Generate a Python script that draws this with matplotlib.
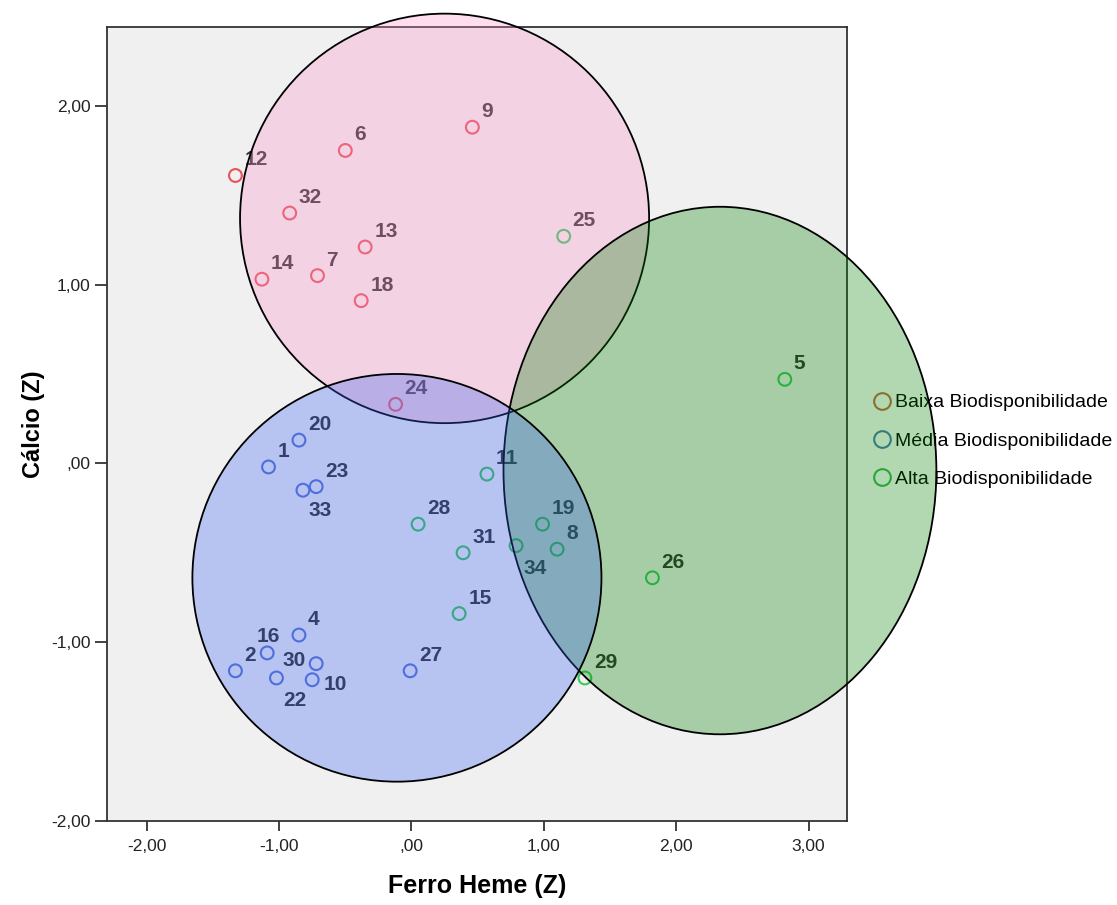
import matplotlib
matplotlib.use("Agg")
import matplotlib.pyplot as plt
from matplotlib.patches import Ellipse
from matplotlib.lines import Line2D

plt.rcParams['font.family'] = ['Liberation Sans', 'DejaVu Sans']

# case ids and z-scores (Ferro Heme, Calcio) per group
baixa_id = ["12", "6", "9", "32", "13", "14", "7", "18", "24"]
baixa_x = [-1.33, -0.50, 0.46, -0.92, -0.35, -1.13, -0.71, -0.38, -0.12]
baixa_y = [1.61, 1.75, 1.88, 1.40, 1.21, 1.03, 1.05, 0.91, 0.33]

media_id = ["20", "1", "23", "33", "4", "16", "2", "30", "22", "10", "27"]
media_x = [-0.85, -1.08, -0.72, -0.82, -0.85, -1.09, -1.33, -0.72, -1.02, -0.75, -0.01]
media_y = [0.13, -0.02, -0.13, -0.15, -0.96, -1.06, -1.16, -1.12, -1.20, -1.21, -1.16]

alta_id = ["25", "5", "11", "28", "31", "34", "19", "8", "15", "26", "29"]
alta_x = [1.15, 2.82, 0.57, 0.05, 0.39, 0.79, 0.99, 1.10, 0.36, 1.82, 1.31]
alta_y = [1.27, 0.47, -0.06, -0.34, -0.50, -0.46, -0.34, -0.48, -0.84, -0.64, -1.20]

# group regions: center x, center y, width, height (data units)
regions = {
    "baixa": (0.25, 1.37, 3.09, 2.29),
    "alta": (2.33, -0.04, 3.27, 2.95),
    "media": (-0.11, -0.64, 3.09, 2.28),
}

groups = ["Baixa Biodisponibilidade", "Média Biodisponibilidade", "Alta Biodisponibilidade"]

x_ticks = [-2, -1, 0, 1, 2, 3]
x_ticklabels = ["-2,00", "-1,00", ",00", "1,00", "2,00", "3,00"]
y_ticks = [-2, -1, 0, 1, 2]
y_ticklabels = ["-2,00", "-1,00", ",00", "1,00", "2,00"]

# label offsets in pixels (dx, dy, ha) where default is up-right
label_off = {
    "33": (6, -26, "left"),
    "34": (7, -28, "left"),
    "22": (7, -28, "left"),
    "10": (11, -10, "left"),
    "16": (-11, 11, "left"),
    "30": (-10, -2, "right"),
}

fig = plt.figure(figsize=(11.17, 9.05), dpi=100)
ax = fig.add_axes([0.0958, 0.0928, 0.6625, 0.8773])
ax.set_facecolor("#f0f0f0")

pt_colors = ["#e8525c", "#5b76d6", "#3cc85a"]
leg_colors = ["#c8683e", "#4a7bb4", "#3cb84c"]

for ids, xs, ys, c in [(baixa_id, baixa_x, baixa_y, pt_colors[0]),
                       (media_id, media_x, media_y, pt_colors[1]),
                       (alta_id, alta_x, alta_y, pt_colors[2])]:
    ax.scatter(xs, ys, s=85, facecolors="none", edgecolors=c, linewidths=1.5, zorder=3)
    for i, x, y in zip(ids, xs, ys):
        dx, dy, ha = label_off.get(i, (9, 10, "left"))
        ax.annotate(i, (x, y), xytext=(dx * 0.72, dy * 0.72), textcoords="offset points",
                    ha=ha, va="baseline", fontsize=15, fontweight="bold", color="#333333", zorder=3)

fills = {"baixa": (250/255, 143/255, 200/255, 0.3),
         "alta": (0.0, 127/255, 0.0, 0.3),
         "media": (53/255, 93/255, 240/255, 0.3)}
z = 10
for key in ["baixa", "alta", "media"]:
    cx, cy, w, h = regions[key]
    e = Ellipse((cx, cy), w, h, facecolor=fills[key], edgecolor="black", linewidth=1.3,
                clip_on=False, zorder=z)
    ax.add_patch(e)
    z += 1

ax.set_xlim(-2.30, 3.29)
ax.set_ylim(-2.0, 2.44)
ax.set_xticks(x_ticks)
ax.set_xticklabels(x_ticklabels)
ax.set_yticks(y_ticks)
ax.set_yticklabels(y_ticklabels)
ax.tick_params(axis="x", length=7, width=1.2, pad=6, labelsize=12.5, colors="#222222")
ax.tick_params(axis="y", length=9, width=1.2, pad=3, labelsize=12.5, colors="#222222")
for sp in ax.spines.values():
    sp.set_color("#333333")
    sp.set_linewidth(1.3)

ax.set_xlabel("Ferro Heme (Z)", fontsize=18, fontweight="bold", labelpad=14)
ax.set_ylabel("Cálcio (Z)", fontsize=17, fontweight="bold", labelpad=4)

handles = [Line2D([], [], linestyle="none", marker="o", markersize=12, markerfacecolor="none",
                  markeredgecolor=c, markeredgewidth=1.5) for c in leg_colors]
leg = ax.legend(handles, groups, loc="center left", bbox_to_anchor=(1.018, 0.479),
                frameon=False, fontsize=14, handletextpad=0.0, handlelength=1.4,
                labelspacing=1.05, borderaxespad=0)
leg.set_zorder(5)

fig.savefig("out.png", dpi=100)
